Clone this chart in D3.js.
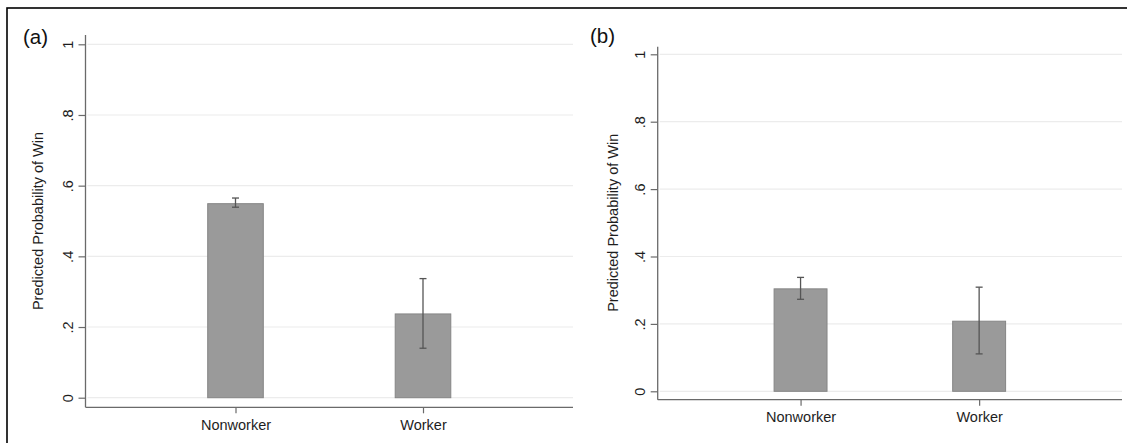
<!DOCTYPE html>
<html>
<head>
<meta charset="utf-8">
<script src="https://cdn.jsdelivr.net/npm/d3@7"></script>
<style>
  html, body { margin: 0; padding: 0; background: #fff; }
  svg { display: block; font-family: "Liberation Sans", Arial, sans-serif; }
</style>
</head>
<body>
<div id="area"></div>
<script>
let width = 1127
let height = 443

// data
let categories = ['Nonworker', 'Worker']
let y_ticks = [0, 0.2, 0.4, 0.6, 0.8, 1]
let y_tick_labels = ['0', '.2', '.4', '.6', '.8', '1']
let y_title = 'Predicted Probability of Win'

let panel_labels = ['(a)', '(b)']
let estimates_a = [0.549, 0.237]
let lower_a = [0.539, 0.140]
let upper_a = [0.565, 0.337]
let estimates_b = [0.304, 0.208]
let lower_b = [0.273, 0.111]
let upper_b = [0.338, 0.309]

let bar_fill = '#9a9a9a'
let bar_stroke = '#858585'
let err_color = '#555555'
let axis_color = '#6a6a6a'
let grid_color = '#ececec'
let text_color = '#1e1e1e'

// panel frames (each sub-graph was exported at a slightly different size)
let panels = [
  {label: panel_labels[0], lx: 23, ly: 44, est: estimates_a, lo: lower_a, hi: upper_a,
   left: 85.5, right: 573, y0: 397.7, y1: 44.3, top: 35, xaxis: 407.3, titleX: 42.5},
  {label: panel_labels[1], lx: 590, ly: 43, est: estimates_b, lo: lower_b, hi: upper_b,
   left: 657.7, right: 1122, y0: 391.3, y1: 54.3, top: 46.7, xaxis: 399.7, titleX: 618}
]

const svg = d3.select('#area').append('svg')
  .attr('width', width)
  .attr('height', height)

// outer frame of the figure
svg.append('rect')
  .attr('x', 7).attr('y', 8)
  .attr('width', 1200).attr('height', 500)
  .attr('fill', 'none')
  .attr('stroke', '#000')
  .attr('stroke-width', 1.6)

panels.forEach(function(p) {
  let g = svg.append('g')

  let y = d3.scaleLinear().domain([0, 1]).range([p.y0, p.y1])
  let x = d3.scalePoint().domain(categories).range([p.left, p.right]).padding(0.8)
  let barW = (p.right - p.left) * 0.114

  // gridlines
  g.selectAll('.grid')
    .data(y_ticks)
    .enter().append('line')
    .attr('x1', p.left + 2).attr('x2', p.right)
    .attr('y1', d => y(d)).attr('y2', d => y(d))
    .attr('stroke', grid_color)
    .attr('stroke-width', 1.2)

  // bars
  g.selectAll('.bar')
    .data(categories)
    .enter().append('rect')
    .attr('x', d => x(d) - barW / 2)
    .attr('width', barW)
    .attr('y', (d, i) => y(p.est[i]))
    .attr('height', (d, i) => y(0) - y(p.est[i]))
    .attr('fill', bar_fill)
    .attr('stroke', bar_stroke)
    .attr('stroke-width', 1)

  // error bars
  categories.forEach(function(c, i) {
    let cx = x(c)
    g.append('line')
      .attr('x1', cx).attr('x2', cx)
      .attr('y1', y(p.lo[i])).attr('y2', y(p.hi[i]))
      .attr('stroke', err_color).attr('stroke-width', 1.3)
    ;[p.lo[i], p.hi[i]].forEach(function(v) {
      g.append('line')
        .attr('x1', cx - 3.5).attr('x2', cx + 3.5)
        .attr('y1', y(v)).attr('y2', y(v))
        .attr('stroke', err_color).attr('stroke-width', 1.3)
    })
  })

  // y axis
  let yAxis = d3.axisLeft(y)
    .tickValues(y_ticks)
    .tickFormat((d, i) => y_tick_labels[i])
    .tickSize(7)
    .tickSizeOuter(0)
  let ya = g.append('g')
    .attr('transform', 'translate(' + p.left + ',0)')
    .call(yAxis)
  ya.select('.domain').remove()
  ya.selectAll('.tick line').attr('stroke', axis_color).attr('stroke-width', 1.2)
  ya.selectAll('.tick text')
    .attr('x', null).attr('dy', null)
    .attr('transform', 'translate(-13,0) rotate(-90)')
    .attr('text-anchor', 'middle')
    .attr('fill', text_color)
    .style('font-size', '14.5px')
  g.append('line')
    .attr('x1', p.left).attr('x2', p.left)
    .attr('y1', p.top).attr('y2', p.xaxis)
    .attr('stroke', axis_color).attr('stroke-width', 1.3)

  // x axis
  let xAxis = d3.axisBottom(x).tickSize(6).tickSizeOuter(0)
  let xa = g.append('g')
    .attr('transform', 'translate(0,' + p.xaxis + ')')
    .call(xAxis)
  xa.select('.domain').remove()
  xa.selectAll('.tick line').attr('stroke', axis_color).attr('stroke-width', 1.2)
  xa.selectAll('.tick text')
    .attr('y', 12)
    .attr('fill', text_color)
    .style('font-size', '14.5px')
  g.append('line')
    .attr('x1', p.left).attr('x2', p.right)
    .attr('y1', p.xaxis).attr('y2', p.xaxis)
    .attr('stroke', axis_color).attr('stroke-width', 1.3)

  // y title
  g.append('text')
    .attr('transform', 'translate(' + p.titleX + ',' + ((p.y0 + p.y1) / 2) + ') rotate(-90)')
    .attr('text-anchor', 'middle')
    .attr('fill', text_color)
    .style('font-size', '14.5px')
    .text(y_title)

  // panel label
  g.append('text')
    .attr('x', p.lx).attr('y', p.ly)
    .attr('fill', '#111')
    .style('font-size', '20.5px')
    .text(p.label)
})
</script>
</body>
</html>
